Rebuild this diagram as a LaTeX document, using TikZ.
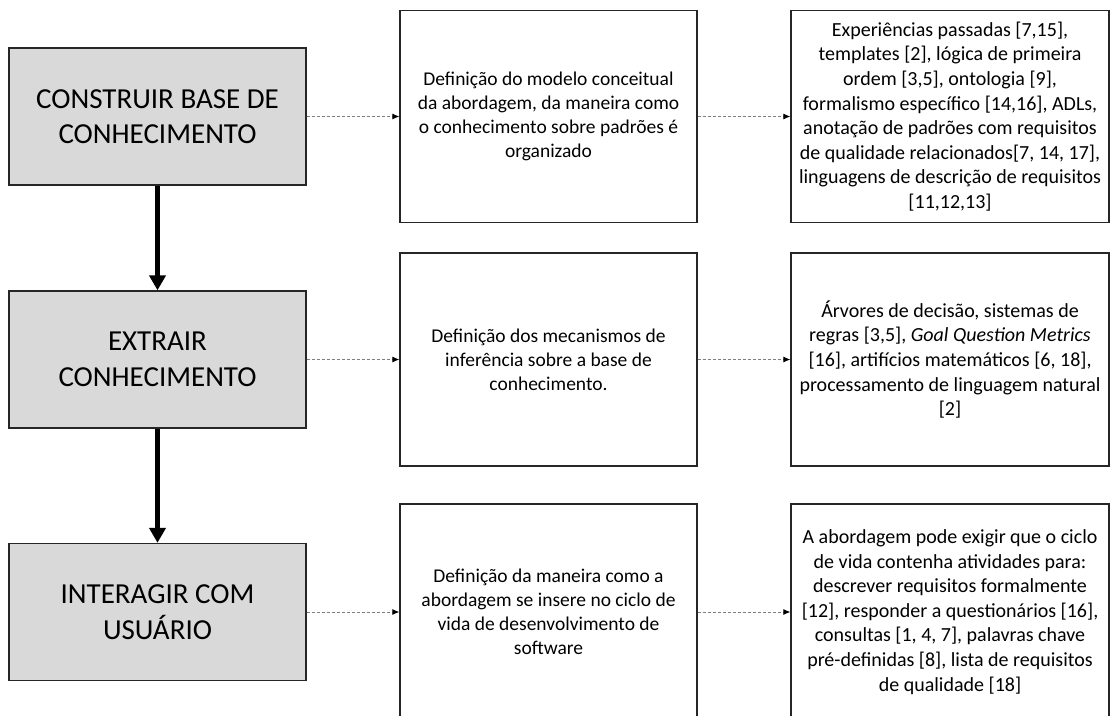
\documentclass[tikz,border=0pt]{standalone}
\usepackage{fontspec}
\setmainfont{Carlito}
\usetikzlibrary{arrows.meta}
\definecolor{boxgray}{HTML}{D9D9D9}
\definecolor{dashgray}{HTML}{7F7F7F}
\tikzset{
  stagebox/.style={draw=black!85, line width=1.3pt, fill=boxgray, inner sep=0pt,
    minimum width=297pt, minimum height=137pt, align=center,
    font=\fontsize{29}{35.5}\selectfont},
  midbox/.style={draw=black!85, line width=1.3pt, fill=white, inner sep=0pt,
    minimum width=297pt, align=center, font=\fontsize{19.5}{24}\selectfont},
  refbox/.style={draw=black!85, line width=1.3pt, fill=white, inner sep=0pt,
    minimum width=318pt, align=center, font=\fontsize{20}{24.6}\selectfont},
  flowarrow/.style={line width=5pt, -{Triangle[length=15pt,width=16pt]}},
  linkarrow/.style={draw=dashgray, line width=0.8pt, dash pattern=on 3pt off 2pt,
    -{Latex[length=7pt,width=6pt,black]}}
}
\begin{document}
\begin{tikzpicture}[x=1pt,y=-1pt]
\clip (0,0) rectangle (1110,715);
\fill[white] (0,0) rectangle (1110,715);
% left column
\node[stagebox] (L1) at (157.5,116.5) {CONSTRUIR BASE DE\\CONHECIMENTO};
\node[stagebox] (L2) at (157.5,359.5) {EXTRAIR\\CONHECIMENTO};
\node[stagebox] (L3) at (157.5,612) {INTERAGIR COM\\USUÁRIO};
% middle column
\node[midbox, minimum height=212pt] (M1) at (548.5,116.5) {Definição do modelo conceitual\\da abordagem, da maneira como\\o conhecimento sobre padrões é\\organizado};
\node[midbox, minimum height=213pt] (M2) at (548.5,359.5) {Definição dos mecanismos de\\inferência sobre a base de\\conhecimento.};
\node[midbox, minimum height=216pt] (M3) at (548.5,612) {Definição da maneira como a\\abordagem se insere no ciclo de\\vida de desenvolvimento de\\software};
% right column
\node[refbox, minimum height=212pt] (R1) at (950,116.5) {Experiências passadas [7,15],\\templates [2], lógica de primeira\\ordem [3,5], ontologia [9],\\formalismo específico [14,16], ADLs,\\anotação de padrões com requisitos\\de qualidade relacionados[7, 14, 17],\\linguagens de descrição de requisitos\\{}[11,12,13]};
\node[refbox, minimum height=213pt] (R2) at (950,359.5) {Árvores de decisão, sistemas de\\regras [3,5], \textit{Goal Question Metrics}\\{}[16], artifícios matemáticos [6, 18],\\processamento de linguagem natural\\{}[2]};
\node[refbox, minimum height=216pt] (R3) at (950,612) {A abordagem pode exigir que o ciclo\\de vida contenha atividades para:\\descrever requisitos formalmente\\{}[12], responder a questionários [16],\\consultas [1, 4, 7], palavras chave\\pré-definidas [8], lista de requisitos\\de qualidade [18]};
% flow arrows
\draw[flowarrow] (L1.south) -- (L2.north);
\draw[flowarrow] (L2.south) -- (L3.north);
% dashed links
\draw[linkarrow] (L1.east) -- (M1.west);
\draw[linkarrow] (M1.east) -- (R1.west);
\draw[linkarrow] (L2.east) -- (M2.west);
\draw[linkarrow] (M2.east) -- (R2.west);
\draw[linkarrow] (L3.east) -- (M3.west);
\draw[linkarrow] (M3.east) -- (R3.west);
\end{tikzpicture}
\end{document}
